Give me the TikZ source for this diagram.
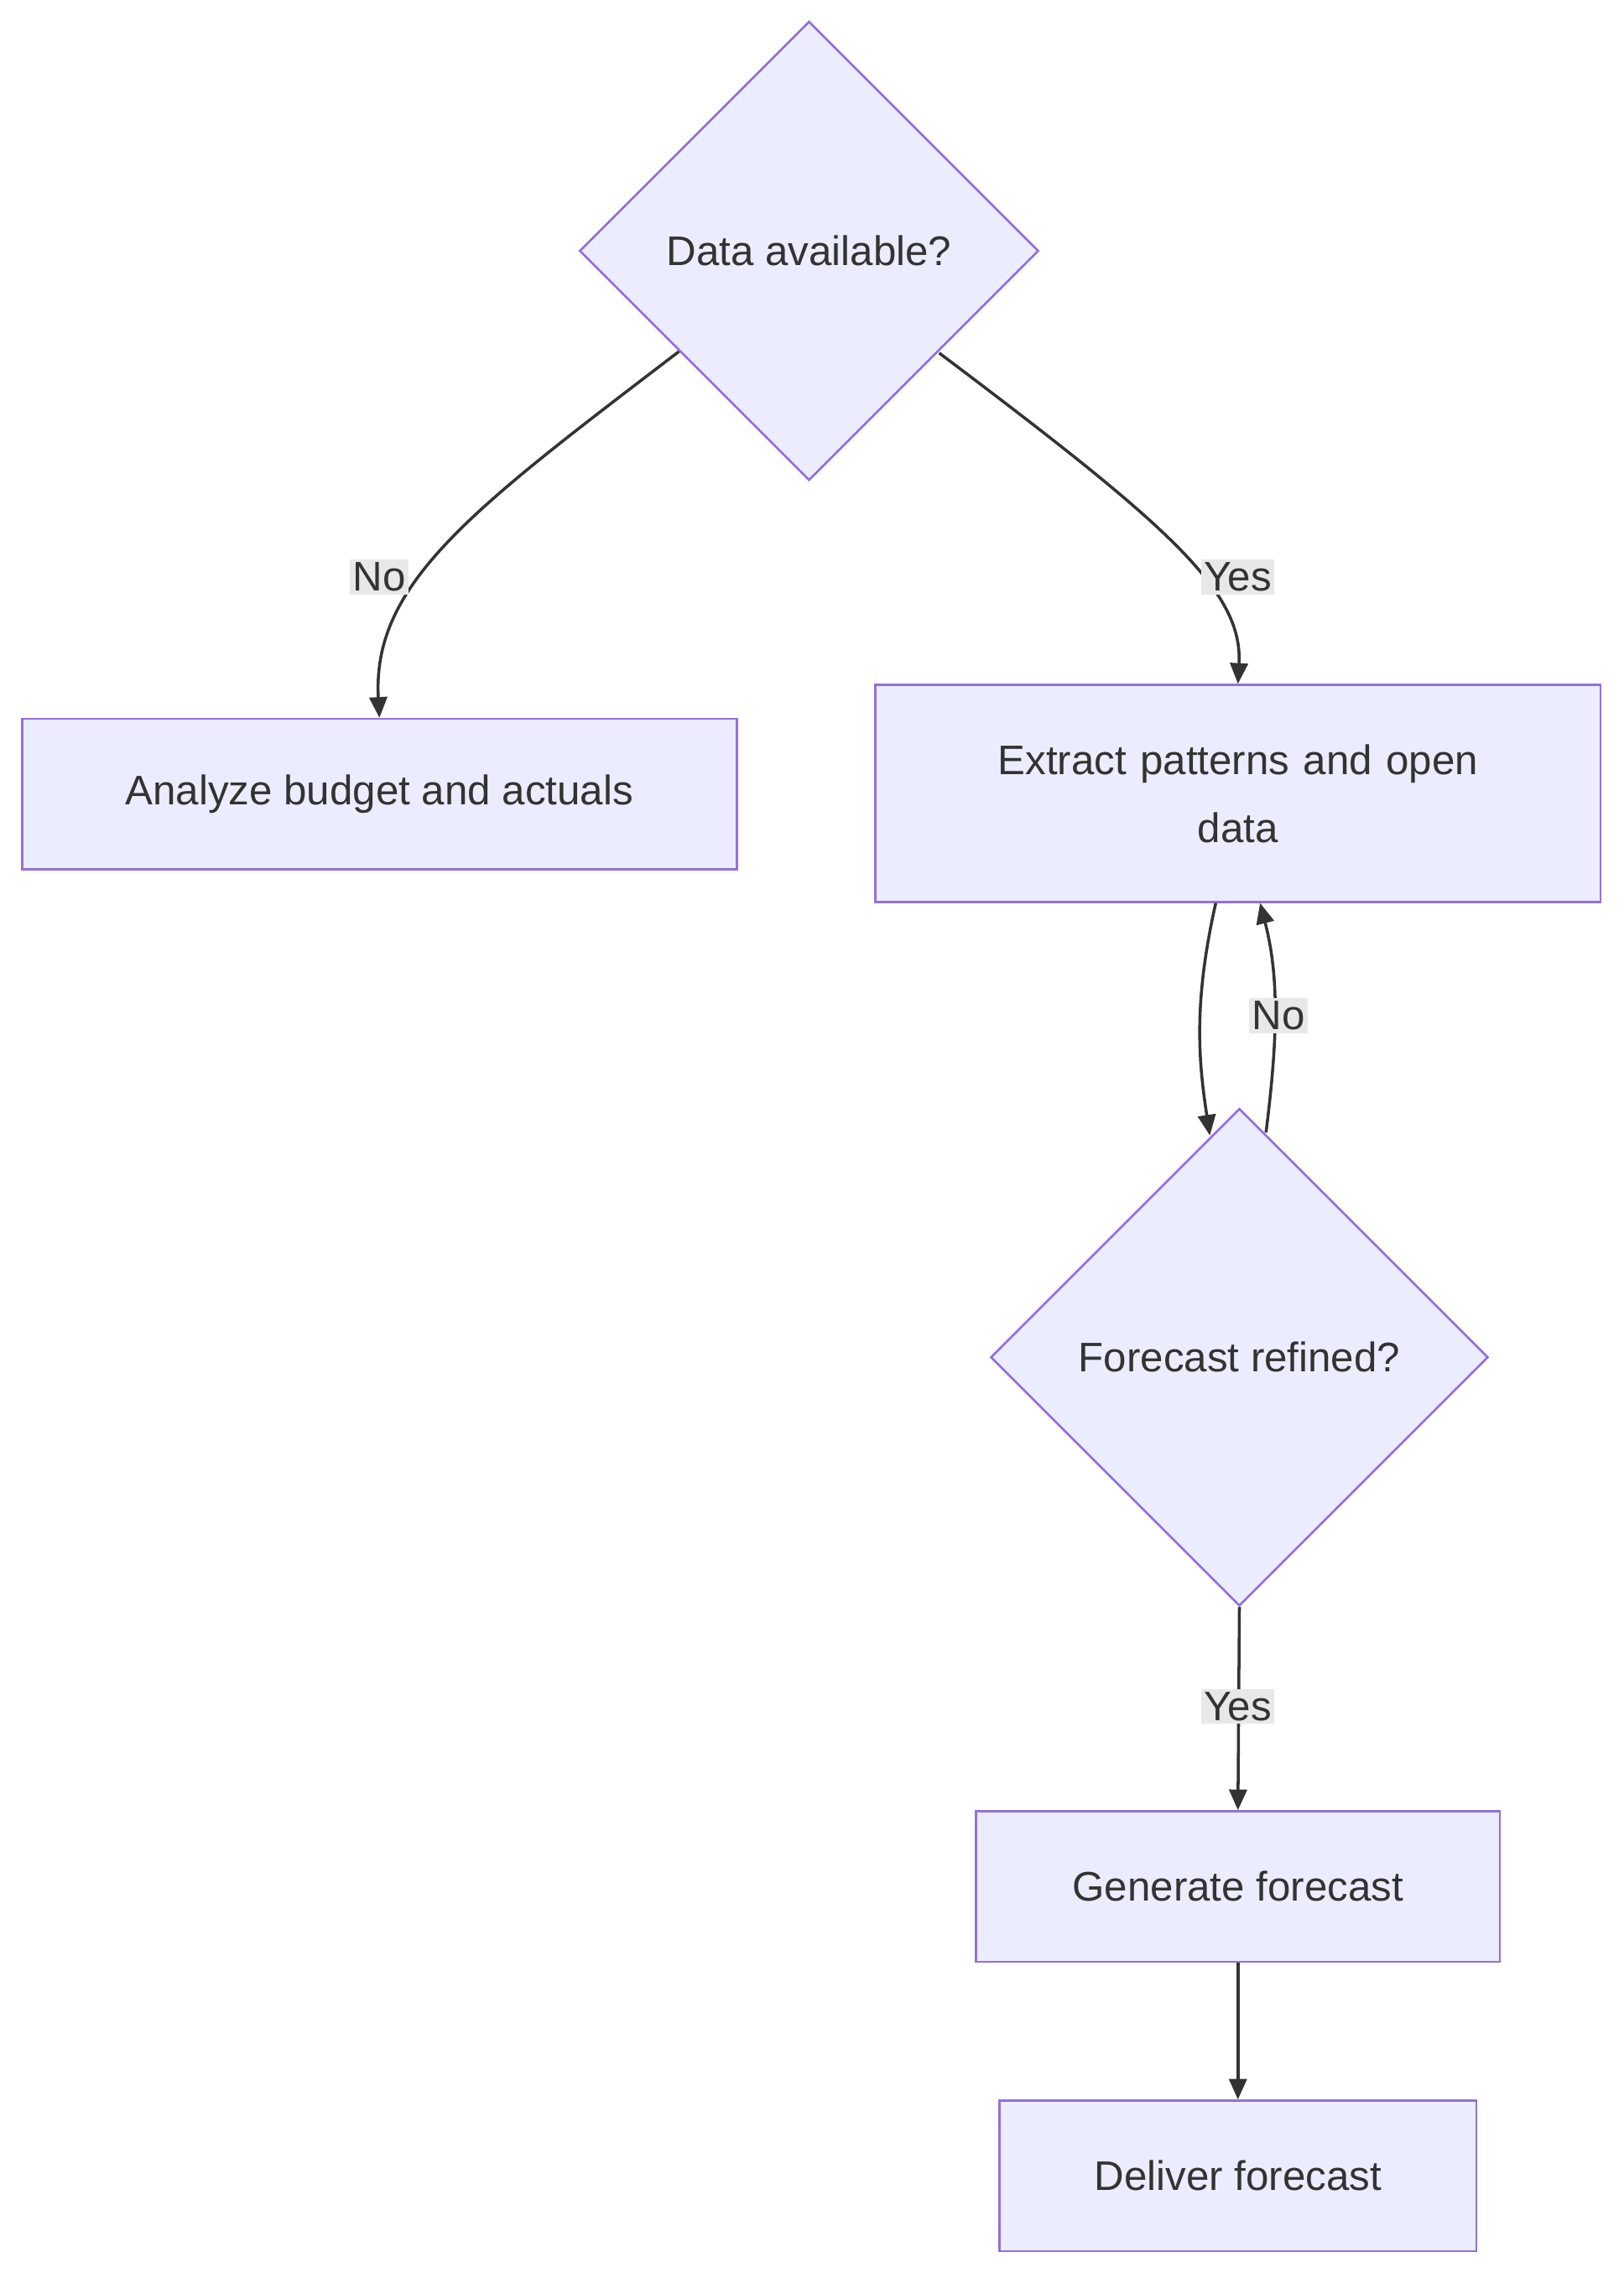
\documentclass[tikz,border=0pt]{standalone}
\usepackage{fontspec}
\setmainfont{Liberation Sans}
\usetikzlibrary{shapes.geometric,arrows.meta,calc}
\definecolor{nfill}{HTML}{ECECFF}
\definecolor{nline}{HTML}{9370DB}
\definecolor{ink}{HTML}{333333}
\definecolor{lbg}{HTML}{E8E8E8}
\begin{document}
\begin{tikzpicture}[x=1pt,y=-1pt,
  every node/.style={font=\fontsize{28}{46}\selectfont,text=ink},
  box/.style={draw=nline,fill=nfill,line width=1.5pt,inner sep=0pt,align=center},
  dia/.style={diamond,draw=nline,fill=nfill,line width=1.5pt,inner sep=0pt,aspect=1},
  lbl/.style={fill=lbg,inner sep=2pt},
  edge/.style={draw=ink,line width=2pt,-{Triangle[length=14pt,width=12pt]}}]
\useasboundingbox (0,0) rectangle (1100,1543.2);
\node[dia,minimum width=311,minimum height=311] (d1) at (548,170) {Data available?};
\node[box,minimum width=484,minimum height=102] (an) at (257,538) {Analyze budget and actuals};
\node[box,minimum width=491,minimum height=147,text width=380] (ex) at (838.5,537.5) {Extract patterns and open\\data};
\node[dia,minimum width=337,minimum height=337] (d2) at (839.5,919.5) {Forecast refined?};
\node[box,minimum width=355,minimum height=102] (ge) at (838.5,1278) {Generate forecast};
\node[box,minimum width=323,minimum height=102] (de) at (838.5,1474) {Deliver forecast};
\coordinate (e1) at ([xshift=-15pt]ex.south);
\coordinate (e2) at ([xshift=15pt]ex.south);
\coordinate (t1) at ($(d2.north)+(-20,19)$);
\coordinate (t2) at ($(d2.north)+(18,17)$);
\draw[edge] ($(d1.south west)+(-10,-10)$) .. controls (320,345) and (252,395) .. (an.north);
\draw[edge] ($(d1.south east)+(10,-9)$) .. controls (790,355) and (842,400) .. (ex.north);
\draw[edge] (e1) .. controls (808,680) and (812,720) .. (t1);
\draw[edge] (t2) .. controls (866,700) and (866,660) .. (e2);
\draw[edge] (d2.south) -- (ge.north);
\draw[edge] (ge.south) -- (de.north);
\node[lbl] (l1) at (257,391) {No};
\node[lbl] (l2) at (838.5,391) {Yes};
\node[lbl] (l3) at (866,688) {No};
\node[lbl] (l4) at (838.5,1156) {Yes};
\end{tikzpicture}
\end{document}
